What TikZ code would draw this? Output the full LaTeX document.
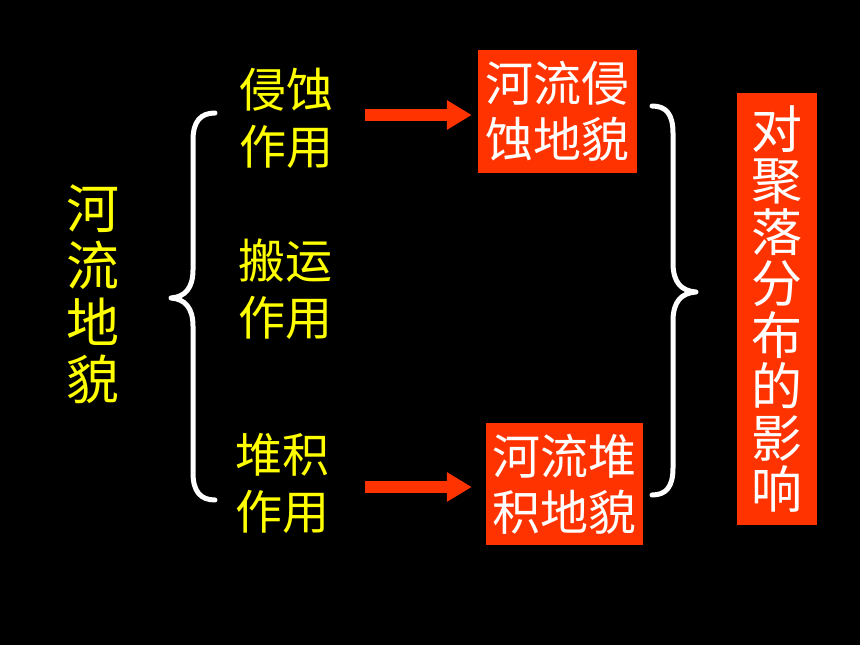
\documentclass[tikz,border=0pt]{standalone}
\usepackage{fontspec}
\setmainfont{Noto Sans CJK SC}
\usetikzlibrary{arrows.meta}
\definecolor{boxred}{HTML}{FF3300}
\definecolor{txtyellow}{HTML}{FFFF00}
\begin{document}
\begin{tikzpicture}[x=1pt, y=-1pt,
    yellowtxt/.style={text=txtyellow, inner sep=0pt, align=center, font=\fontsize{47}{57}\selectfont},
    redbox/.style={fill=boxred, text=white, inner sep=0pt, align=center, font=\fontsize{48}{56}\selectfont},
    redarrow/.style={draw=boxred, line width=12pt, -{Triangle[length=25pt,width=28pt]}},
    brace/.style={draw=white, line width=5pt, line cap=round, line join=round}]
    \fill [black] (0,0) rectangle (860,645);
    \useasboundingbox (0,0) rectangle (860,645);

    \node [yellowtxt, font=\fontsize{53}{57}\selectfont] (hlmm) at (93,294) {河\\流\\地\\貌};

    \node [yellowtxt] (qs) at (286,118) {侵蚀\\作用};
    \node [yellowtxt] (by) at (285,289) {搬运\\作用};
    \node [yellowtxt] (dj) at (282,483) {堆积\\作用};

    \node [redbox, minimum width=159pt, minimum height=123pt] (qsbox) at (557.5,111.5) {河流侵\\蚀地貌};
    \node [redbox, minimum width=157pt, minimum height=122pt] (djbox) at (564.5,484) {河流堆\\积地貌};
    \node [redbox, minimum width=80pt, minimum height=432pt, font=\fontsize{51}{51.5}\selectfont] (yx) at (777,309) {对\\聚\\落\\分\\布\\的\\影\\响};

    \draw [redarrow, shorten <=32pt, shorten >=6pt] (qs.east |- 0,115) -- (qsbox.west |- 0,115);
    \draw [redarrow, shorten <=36pt, shorten >=14pt] (dj.east |- 0,487) -- (djbox.west |- 0,487);

    \draw [brace] (215,113) .. controls (201,113) and (193,121) .. (193,140) -- (193,270)
        .. controls (193,288) and (185,297) .. (171,298)
        .. controls (185,299) and (193,308) .. (193,326) -- (193,473)
        .. controls (193,492) and (201,500) .. (215,500);
    \draw [brace] (652,106) .. controls (666,106) and (673,114) .. (673,133) -- (673,263)
        .. controls (673,282) and (681,291) .. (696,292)
        .. controls (681,293) and (673,302) .. (673,321) -- (673,468)
        .. controls (673,487) and (666,495) .. (652,495);
\end{tikzpicture}
\end{document}
